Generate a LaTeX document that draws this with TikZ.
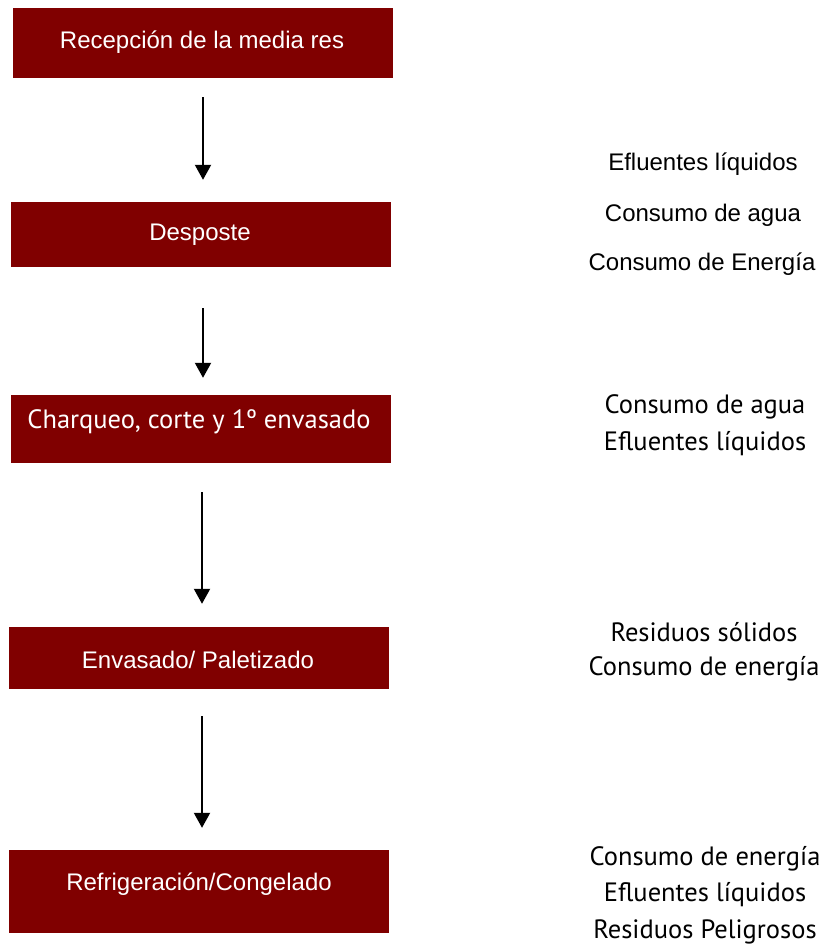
\documentclass[tikz,border=0pt]{standalone}
\usepackage{fontspec}
\setmainfont{Liberation Sans}
\newfontfamily\fgfont{PT Sans}
\usetikzlibrary{arrows.meta}
\definecolor{boxred}{HTML}{800000}
\tikzset{
  procbox/.style={draw=none, fill=boxred, rectangle, inner sep=0pt},
  arialtxt/.style={font=\fontsize{24}{28}\selectfont, text=white, inner sep=0pt, anchor=center},
  fgtxt/.style={font=\fgfont\fontsize{26.5}{30}\selectfont, inner sep=0pt, anchor=center},
  sidearial/.style={font=\fontsize{24}{28}\selectfont, text=black, inner sep=0pt, anchor=center},
  flowarrow/.style={line width=2pt, -{Triangle[width=16pt,length=15pt]}},
}
\begin{document}
\begin{tikzpicture}[x=1pt,y=-1pt]
\useasboundingbox (0,0) rectangle (828,946);
% boxes
\node[procbox, minimum width=380pt, minimum height=70pt] (b1) at (203,43) {};
\node[procbox, minimum width=380pt, minimum height=65pt] (b2) at (201,234.5) {};
\node[procbox, minimum width=380pt, minimum height=68pt] (b3) at (201,429) {};
\node[procbox, minimum width=380pt, minimum height=62pt] (b4) at (199,658) {};
\node[procbox, minimum width=380pt, minimum height=83pt] (b5) at (199,891.5) {};
% box texts
\node[arialtxt] (t1) at (202,42) {Recepción de la media res};
\node[arialtxt] (t2) at (200,235) {Desposte};
\node[fgtxt, text=white] (t3) at (199,422) {Charqueo, corte y 1º envasado};
\node[arialtxt] (t4) at (198,660) {Envasado/ Paletizado};
\node[arialtxt] (t5) at (199,884) {Refrigeración/Congelado};
% arrows
\draw[flowarrow, shorten <=19pt, shorten >=22pt] ([xshift=0pt]b1.south) -- (b1.south |- b2.north);
\draw[flowarrow, shorten <=41pt, shorten >=17pt] ([xshift=2pt]b2.south) -- ([xshift=2pt]b2.south |- b3.north);
\draw[flowarrow, shorten <=29pt, shorten >=23pt] ([xshift=1pt]b3.south) -- ([xshift=1pt]b3.south |- b4.north);
\draw[flowarrow, shorten <=27pt, shorten >=22pt] ([xshift=3pt]b4.south) -- ([xshift=3pt]b4.south |- b5.north);
% side texts
\node[sidearial] (s1) at (703,164) {Efluentes líquidos};
\node[sidearial] (s2) at (703,215) {Consumo de agua};
\node[sidearial] (s3) at (702,264) {Consumo de Energía};
\node[fgtxt] (s4) at (705,407) {Consumo de agua};
\node[fgtxt] (s5) at (705,444) {Efluentes líquidos};
\node[fgtxt] (s6) at (704,632) {Residuos sólidos};
\node[fgtxt] (s7) at (704,669) {Consumo de energía};
\node[fgtxt] (s8) at (705,859) {Consumo de energía};
\node[fgtxt] (s9) at (705,895) {Efluentes líquidos};
\node[fgtxt] (s10) at (705,932) {Residuos Peligrosos};
\end{tikzpicture}
\end{document}
